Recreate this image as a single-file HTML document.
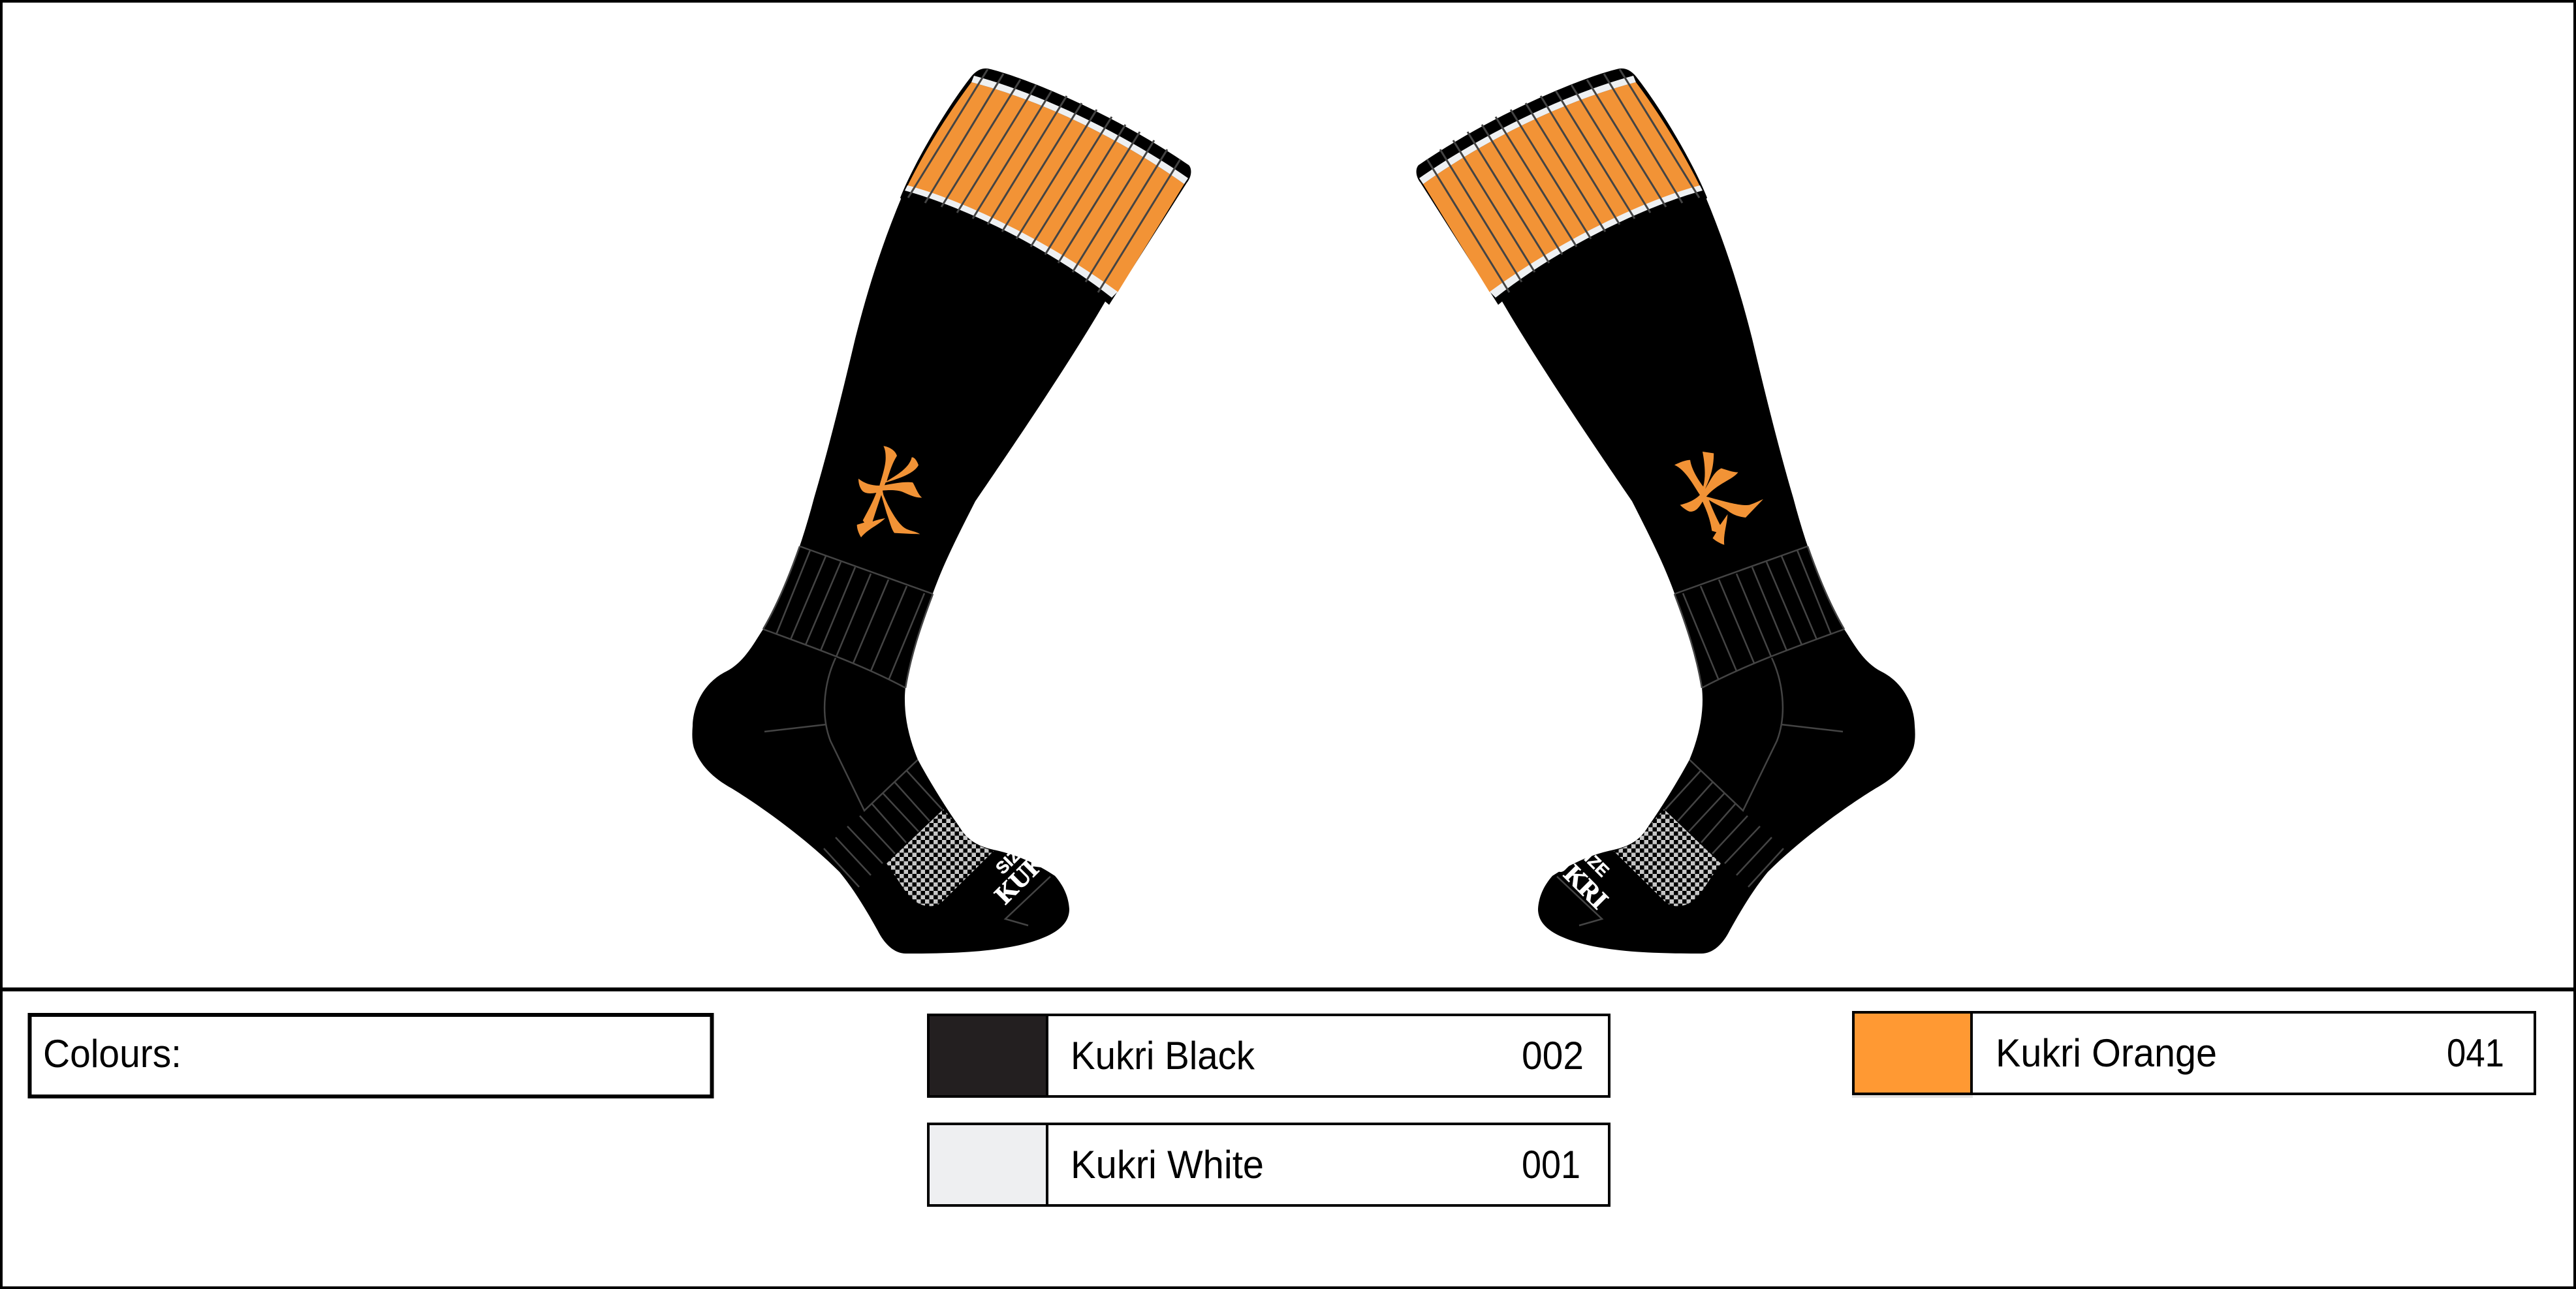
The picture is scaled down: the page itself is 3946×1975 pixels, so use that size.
<!DOCTYPE html>
<html lang="en">
<head>
<meta charset="utf-8">
<title>Kukri Socks</title>
<style>
html,body{margin:0;padding:0;background:#fff;}
svg{display:block;}
text{font-family:"Liberation Sans",sans-serif;fill:#000;}
</style>
</head>
<body>
<svg xmlns="http://www.w3.org/2000/svg" width="3946" height="1975" viewBox="0 0 3946 1975">
<defs>
<pattern id="chk" width="13" height="13" patternUnits="userSpaceOnUse">
<rect width="13" height="13" fill="#000"/>
<rect width="6.5" height="6.5" fill="#c6c6c6"/>
<rect x="6.5" y="6.5" width="6.5" height="6.5" fill="#c6c6c6"/>
</pattern>
<g id="sock">
<path fill="#000" d="M1382 300C1352 372 1330 440 1310 519C1292 595 1270 685 1247 763C1228 835 1205 900 1169 964C1155 985 1140 1015 1112 1029C1080 1045 1062 1078 1061 1112C1060 1124 1060 1136 1063 1146C1072 1172 1092 1192 1121 1208C1165 1235 1235 1285 1286 1336C1310 1365 1330 1400 1344 1425C1355 1447 1370 1461 1388 1461C1450 1461 1545 1460 1600 1436C1624 1426 1638 1412 1638 1393C1637 1375 1630 1358 1616 1342C1590 1325 1560 1310 1522 1302C1495 1296 1480 1285 1469 1266C1445 1232 1420 1190 1406 1164C1392 1130 1386 1100 1386 1072C1386 1040 1395 1000 1429 909C1445 865 1465 825 1494 768C1530 715 1630 570 1693 462L1600 300L1450 250Z"/>
<path fill="#000" d="M1379 303C1400 250 1450 165 1488 117C1496 107 1505 104 1513 105C1560 115 1700 170 1821 253C1826 258 1826 270 1818 280L1699 467L1693 462C1590 370 1460 315 1382 307Z"/>
<path fill="#F29336" d="M1390 285C1420 225 1455 170 1488 126C1600 155 1720 215 1814 282L1712 448C1600 365 1470 305 1390 285Z"/>
<path fill="#EEF0F2" d="M1492 116C1600 145 1730 210 1820 273L1814 282C1720 215 1600 155 1488 126Z"/>
<path fill="#EEF0F2" d="M1390 284C1470 305 1600 365 1712 447L1703 456C1600 375 1470 315 1386 292Z"/>
<path fill="none" stroke="#444" stroke-width="3" d="M1513 106L1391 303M1537 113L1417 311M1563 122L1442 317M1587 130L1466 326M1611 139L1490 335M1634 147L1513 344M1657 158L1535 355M1680 168L1557 366M1703 179L1579 378M1724 191L1601 390M1746 202L1621 403M1768 215L1643 417M1788 229L1663 432M1808 244L1682 448"/>
<path fill="none" stroke="#444" stroke-width="2.5" d="M1225 837L1429 910M1169 964C1240 990 1320 1018 1387 1054M1225 837C1210 880 1192 925 1169 964M1429 910C1410 960 1395 1005 1387 1054M1241 843L1189 972M1265 852L1211 980M1288 861L1234 988M1310 869L1257 997M1334 879L1281 1006M1361 888L1307 1016M1389 898L1334 1028M1416 909L1362 1040M1280 1008C1265 1040 1255 1090 1272 1135L1324 1242L1406 1164M1171 1121L1266 1110M1389 1181L1443 1240M1371 1199L1424 1258M1353 1216L1407 1274M1336 1232L1388 1291M1317 1250L1371 1308M1298 1266L1352 1323M1280 1283L1334 1341M1262 1300L1316 1359M1609 1343L1540 1408L1575 1418"/>
<path fill="url(#chk)" d="M1445 1240L1469 1266C1480 1285 1495 1296 1522 1304L1445 1380C1437 1388 1430 1389 1420 1388C1405 1387 1392 1375 1378 1352L1358 1323Z"/>
</g>
</defs>

<rect width="3946" height="1975" fill="#fff"/>

<use href="#sock"/>
<use href="#sock" transform="translate(3994 0) scale(-1 1)"/>

<g transform="translate(1270 650) scale(.3333)" fill="#F29336">
<path d="M250 100C275 103 305 120 312 145C300 165 288 185 265 262C310 235 370 200 380 152C392 150 405 170 411 188C395 220 340 245 260 268L255 280C300 272 350 262 385 268C398 290 410 325 427 337C400 340 370 325 340 312C310 300 270 303 246 305L250 325C270 375 310 450 345 475C365 490 400 492 418 505C385 505 340 502 300 500C285 480 280 450 265 410L240 325C225 370 210 415 200 447C220 440 240 435 258 432C225 465 180 480 147 520C135 500 128 480 128 462L162 452L155 442C175 405 200 360 217 315C190 320 165 320 152 305C140 290 135 270 135 250C160 270 190 282 232 282C240 250 262 190 260 150C260 125 255 110 250 100Z"/>
</g>
<g transform="translate(2100 80) scale(.574 .51)" fill="#F29336">
<path d="M810 1240C825 1232 840 1225 852 1225C855 1250 870 1280 887 1305C895 1270 890 1230 885 1200L915 1205C915 1250 905 1280 892 1312C905 1290 915 1260 935 1250C950 1255 965 1262 980 1262C965 1285 925 1295 895 1335C930 1345 985 1365 1010 1360C1025 1355 1035 1348 1047 1343L1000 1398C975 1395 960 1385 950 1375C935 1365 915 1355 902 1345C912 1375 925 1405 932 1420L952 1388C950 1420 940 1450 943 1480C930 1475 920 1468 912 1460L922 1442L910 1438C905 1400 895 1375 885 1350C875 1370 865 1382 850 1380C840 1375 832 1368 825 1360C845 1355 865 1345 878 1330C860 1300 840 1255 810 1240Z"/>
</g>

<text transform="translate(1536 1341) rotate(-45)" style="font-family:'Liberation Sans',sans-serif;font-weight:700;font-size:26px;fill:#fff;stroke:#fff;stroke-width:.6px">SIZE</text>
<text transform="translate(1540 1387) rotate(-45)" style="font-family:'Liberation Serif',serif;font-weight:700;font-size:40px;fill:#fff;stroke:#fff;stroke-width:1px">KUKRI</text>
<text transform="translate(2454 1345) rotate(45)" text-anchor="end" style="font-family:'Liberation Sans',sans-serif;font-weight:700;font-size:26px;fill:#fff;stroke:#fff;stroke-width:.6px">SIZE</text>
<text transform="translate(2447 1395) rotate(45)" text-anchor="end" style="font-family:'Liberation Serif',serif;font-weight:700;font-size:40px;fill:#fff;stroke:#fff;stroke-width:1px">KUKRI</text>

<rect x="2" y="2" width="3942" height="1971" fill="none" stroke="#000" stroke-width="4"/>
<rect x="0" y="1513" width="3946" height="6" fill="#000"/>

<rect x="45.5" y="1555" width="1045" height="125" fill="#fff" stroke="#000" stroke-width="6"/>
<text x="66" y="1635" font-size="60" textLength="212" lengthAdjust="spacingAndGlyphs">Colours:</text>

<rect x="1422" y="1555" width="1043" height="125" fill="#fff" stroke="#000" stroke-width="4"/>
<rect x="1422" y="1555" width="182" height="125" fill="#231F20" stroke="#000" stroke-width="4"/>
<text x="1640" y="1638" font-size="60" textLength="282" lengthAdjust="spacingAndGlyphs">Kukri Black</text>
<text x="2331" y="1638" font-size="60" textLength="95" lengthAdjust="spacingAndGlyphs">002</text>

<rect x="1422" y="1722" width="1043" height="125" fill="#fff" stroke="#000" stroke-width="4"/>
<rect x="1422" y="1722" width="182" height="125" fill="#EEEFF1" stroke="#000" stroke-width="4"/>
<text x="1640" y="1805" font-size="60" textLength="296" lengthAdjust="spacingAndGlyphs">Kukri White</text>
<text x="2331" y="1805" font-size="60" textLength="90" lengthAdjust="spacingAndGlyphs">001</text>

<rect x="2837" y="1678" width="185" height="4" fill="#e2e2e2"/>
<rect x="2839" y="1551" width="1044" height="125" fill="#fff" stroke="#000" stroke-width="4"/>
<rect x="2839" y="1551" width="181" height="125" fill="#FF9933" stroke="#000" stroke-width="4"/>
<text x="3057" y="1634" font-size="60" textLength="339" lengthAdjust="spacingAndGlyphs">Kukri Orange</text>
<text x="3748" y="1634" font-size="60" textLength="88" lengthAdjust="spacingAndGlyphs">041</text>
</svg>
</body>
</html>
